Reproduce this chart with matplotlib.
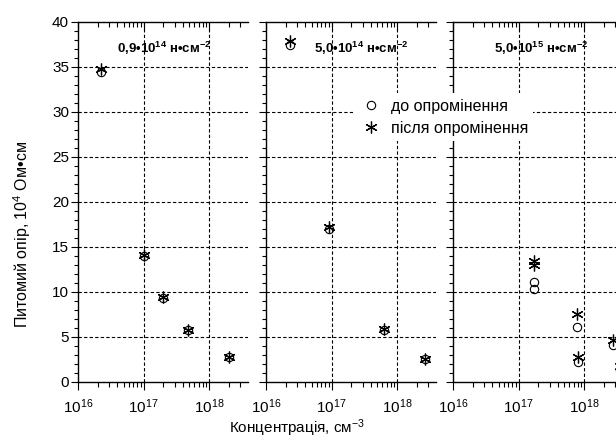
import numpy as np
import matplotlib
matplotlib.use('Agg')
import matplotlib.pyplot as plt
from matplotlib.ticker import FixedLocator, LogLocator, NullFormatter, MultipleLocator

plt.rcParams['font.family'] = ['Liberation Sans', 'DejaVu Sans']
plt.rcParams['mathtext.fontset'] = 'custom'
plt.rcParams['mathtext.rm'] = 'Liberation Sans'
plt.rcParams['mathtext.it'] = 'Liberation Sans:italic'
plt.rcParams['mathtext.bf'] = 'Liberation Sans:bold'

## data: (concentration cm^-3, resistivity 10^4 Ohm*cm)
panel_labels = ['0,9•10$^{\\mathbf{14}}$ н•см$^{\\mathbf{-2}}$',
                '5,0•10$^{\\mathbf{14}}$ н•см$^{\\mathbf{-2}}$',
                '5,0•10$^{\\mathbf{15}}$ н•см$^{\\mathbf{-2}}$']

# 0.9e14 n/cm2
conc_1 = [2.25e16, 1.03e17, 2.0e17, 4.8e17, 2.05e18]
before_1 = [34.4, 14.0, 9.3, 5.7, 2.7]
after_1 = [34.8, 14.1, 9.4, 5.75, 2.75]

# 5.0e14 n/cm2
conc_2 = [2.3e16, 9.0e16, 6.3e17, 2.7e18]
before_2 = [37.4, 17.0, 5.8, 2.5]
after_2 = [37.9, 17.2, 5.85, 2.55]

# 5.0e15 n/cm2
conc_3_before = [1.72e17, 1.70e17, 7.9e17, 8.0e17, 2.8e18, 3.6e18]
before_3 = [11.1, 10.3, 6.1, 2.2, 4.1, 1.3]
conc_3_after = [1.74e17, 1.72e17, 7.9e17, 8.0e17, 2.8e18, 3.6e18]
after_3 = [13.4, 12.95, 7.5, 2.8, 4.6, 1.8]

series = [(conc_1, before_1, conc_1, after_1),
          (conc_2, before_2, conc_2, after_2),
          (conc_3_before, before_3, conc_3_after, after_3)]

W, H = 616, 446
fig = plt.figure(figsize=(W / 100, H / 100), dpi=100)

lefts = [78, 266, 453]
ax_w = 170
x0, x1 = 1e16, 10 ** (16 + 170 / 65.5)
star = (6, 2, 0)
label_x = [0.51, 0.56, 0.52]

axes = []
for i, (cb, vb, ca, va) in enumerate(series):
    ax = fig.add_axes([lefts[i] / W, 64.3 / H, ax_w / W, 360 / H])
    axes.append(ax)
    ax.set_xscale('log')
    ax.set_xlim(x0, x1)
    ax.set_ylim(0, 40)

    for y in range(5, 40, 5):
        ax.axhline(y, color='black', lw=0.8, ls=(0, (3, 2)), zorder=1)
    for x in [1e17, 1e18]:
        ax.axvline(x, color='black', lw=0.8, ls=(0, (3, 2)), zorder=1)

    ax.plot(cb, vb, ls='none', marker='o', ms=6, mfc='none', mec='black', mew=0.8,
            zorder=3, label='до опромінення')
    ax.plot(ca, va, ls='none', marker=star, ms=8.5, color='black', mew=0.9,
            zorder=4, label='після опромінення')

    ax.spines['right'].set_visible(False)
    ax.xaxis.set_major_locator(FixedLocator([1e16, 1e17, 1e18]))
    ax.xaxis.set_minor_locator(LogLocator(base=10, subs=np.arange(2, 10), numticks=20))
    ax.xaxis.set_minor_formatter(NullFormatter())
    ax.set_xticklabels(['10$^{16}$', '10$^{17}$', '10$^{18}$'])
    ax.yaxis.set_major_locator(MultipleLocator(5))
    ax.yaxis.set_minor_locator(MultipleLocator(1))
    ax.tick_params(axis='x', which='major', direction='out', length=6, width=0.8,
                   top=True, labelsize=11, pad=5)
    ax.tick_params(axis='x', which='minor', direction='out', length=3.5, width=0.8, top=True)
    ax.tick_params(axis='y', which='major', direction='out', length=5, width=0.8,
                   labelsize=11, pad=1.5)
    ax.tick_params(axis='y', which='minor', direction='out', length=3, width=0.8)
    for t in ax.xaxis.get_ticklines(minor=False)[1::2] + ax.xaxis.get_ticklines(minor=True)[1::2]:
        t.set_marker(matplotlib.lines.TICKDOWN)
    if i > 0:
        ax.set_yticklabels([])
    for s in ax.spines.values():
        s.set_linewidth(1.0)

    ax.text(label_x[i], 0.927, panel_labels[i], transform=ax.transAxes, ha='center',
            va='center', fontsize=9.5, fontweight='bold')

h, l = axes[0].get_legend_handles_labels()
fig.legend(h, l, loc='upper left', bbox_to_anchor=(345 / W, 1 - 85 / H), fontsize=11.5,
           frameon=True, facecolor='white', edgecolor='none', framealpha=1, fancybox=False,
           handletextpad=0.5, borderpad=0.35, labelspacing=0.45, handlelength=1.5)

fig.text(297 / W, 1 - 428 / H, 'Концентрація, см$^{-3}$', ha='center', va='center', fontsize=11)
fig.text(22 / W, 1 - 234 / H, 'Питомий опір, 10$^{4}$ Ом•см', ha='center', va='center',
         rotation=90, fontsize=11.5)

plt.savefig('out.png', dpi=100)
